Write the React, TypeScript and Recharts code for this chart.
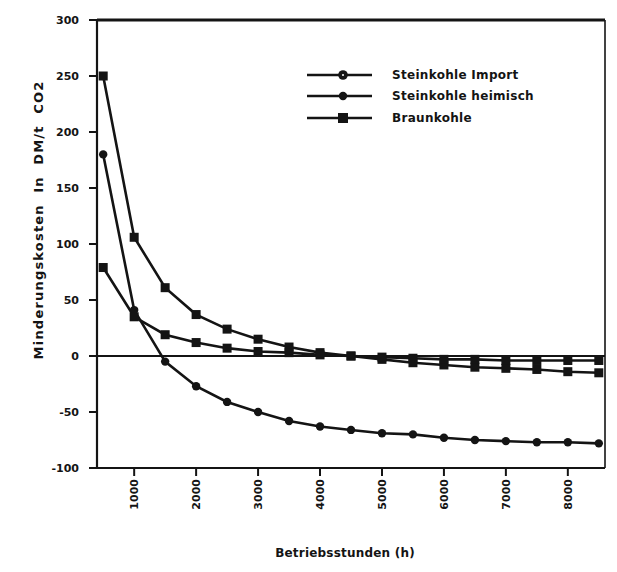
import React from 'react';
import { LineChart, Line, XAxis, YAxis, ReferenceLine, Legend } from 'recharts';

const hours = [500, 1000, 1500, 2000, 2500, 3000, 3500, 4000, 4500, 5000, 5500, 6000, 6500, 7000, 7500, 8000, 8500];
const importValues = [250, 106, 61, 37, 24, 15, 8, 3, 0, -3, -6, -8, -10, -11, -12, -14, -15];
const heimischValues = [180, 41, -5, -27, -41, -50, -58, -63, -66, -69, -70, -73, -75, -76, -77, -77, -78];
const braunkohleValues = [79, 35, 19, 12, 7, 4, 3, 1, 0, -1, -2, -3, -3, -4, -4, -4, -4];
const seriesNames = ['Steinkohle Import', 'Steinkohle heimisch', 'Braunkohle'];
const xLabelTicks = [1000, 2000, 3000, 4000, 5000, 6000, 7000, 8000];
const yLabelTicks = [-100, -50, 0, 50, 100, 150, 200, 250, 300];
const xTitle = 'Betriebsstunden (h)';
const yTitle = 'Minderungskosten  In  DM/t  CO2';

const X_MIN = 400;
const X_MAX = 8600;
const xTicks: number[] = [];
for (let v = X_MIN; v <= X_MAX; v += 200) xTicks.push(v);
const yTicks: number[] = [];
for (let v = -100; v <= 300; v += 25) yTicks.push(v);

const data = hours.map((h, i) => ({
  h,
  imp: importValues[i],
  heim: heimischValues[i],
  braun: braunkohleValues[i],
}));

const INK = '#141414';
const FONT = "'DejaVu Sans', sans-serif";
const CHART_W = 617;
const CHART_H = 572;
const MARGIN = { top: 20, right: 12, left: 0, bottom: 0 };
const Y_AXIS_W = 97;
const X_AXIS_H = 104;

const YTickLabel = (props: any) => {
  const { x, y, payload } = props;
  const v = payload.value;
  if (!yLabelTicks.includes(v)) return <g />;
  return (
    <text x={x - 10} y={y} dy={4} textAnchor="end" fontFamily={FONT} fontWeight="bold" fontSize={11} fill={INK}>
      {v}
    </text>
  );
};

const XTickLabel = (props: any) => {
  const { x, y, payload } = props;
  const v = payload.value;
  if (!xLabelTicks.includes(v)) return <g />;
  return (
    <text
      transform={`translate(${x},${y + 3}) rotate(-90)`}
      dy={4}
      textAnchor="end"
      fontFamily={FONT}
      fontWeight="bold"
      fontSize={11}
      fill={INK}
    >
      {v}
    </text>
  );
};

const SquareDot = (props: any) => {
  const { cx, cy } = props;
  if (cx == null || cy == null) return null;
  return <rect x={cx - 4.5} y={cy - 4.5} width={9} height={9} fill={INK} />;
};
const CircleDot = (props: any) => {
  const { cx, cy } = props;
  if (cx == null || cy == null) return null;
  return <circle cx={cx} cy={cy} r={4.2} fill={INK} />;
};

const markers = [
  (x: number, y: number) => (
    <g>
      <circle cx={x} cy={y} r={4.8} fill={INK} />
      <circle cx={x} cy={y} r={1} fill="#fff" />
    </g>
  ),
  (x: number, y: number) => <circle cx={x} cy={y} r={4.2} fill={INK} />,
  (x: number, y: number) => <rect x={x - 5} y={y - 5} width={10} height={10} fill={INK} />,
];
const legendRows = [13, 34, 56];

const LegendBox = () => (
  <svg width={260} height={72}>
    {seriesNames.map((name, i) => (
      <g key={name}>
        <line x1={7} x2={72} y1={legendRows[i]} y2={legendRows[i]} stroke={INK} strokeWidth={2.6} />
        {markers[i](43, legendRows[i])}
        <text x={92} y={legendRows[i]} dy={4} fontFamily={FONT} fontWeight="bold" fontSize={12} letterSpacing={0.3} fill={INK}>
          {name}
        </text>
      </g>
    ))}
  </svg>
);

const YTitle = () => (
  <text
    transform="translate(38,220) rotate(-90)"
    textAnchor="middle"
    dy={5}
    fontFamily={FONT}
    fontWeight="bold"
    fontSize={13}
    letterSpacing={1.2}
    fill={INK}
    style={{ whiteSpace: 'pre' }}
  >
    {yTitle}
  </text>
);

const XTitle = () => (
  <text x={345} y={557} textAnchor="middle" fontFamily={FONT} fontWeight="bold" fontSize={12} letterSpacing={0.2} fill={INK}>
    {xTitle}
  </text>
);

const tickStyle = { stroke: INK, strokeWidth: 2 };

export default function App() {
  return (
    <div style={{ margin: '-8px 0 0 -8px', width: CHART_W, height: CHART_H, background: '#fff' }}>
      <LineChart width={CHART_W} height={CHART_H} data={data} margin={MARGIN}>
        <XAxis
          xAxisId="minor"
          dataKey="h"
          type="number"
          domain={[X_MIN, X_MAX]}
          ticks={xTicks}
          interval={0}
          tickSize={4}
          tickLine={tickStyle}
          tick={false}
          height={0}
          axisLine={false}
        />
        <XAxis
          dataKey="h"
          type="number"
          domain={[X_MIN, X_MAX]}
          ticks={xLabelTicks}
          interval={0}
          tickSize={8}
          tickMargin={0}
          tickLine={tickStyle}
          tick={<XTickLabel />}
          height={X_AXIS_H}
          axisLine={{ stroke: INK, strokeWidth: 2.2 }}
          label={<XTitle />}
        />
        <YAxis
          yAxisId="minor"
          type="number"
          domain={[-100, 300]}
          ticks={yTicks}
          interval={0}
          tickSize={4}
          tickLine={tickStyle}
          tick={false}
          width={0}
          axisLine={false}
        />
        <YAxis
          type="number"
          domain={[-100, 300]}
          ticks={yLabelTicks}
          interval={0}
          tickSize={8}
          tickMargin={0}
          tickLine={tickStyle}
          tick={<YTickLabel />}
          width={Y_AXIS_W}
          axisLine={{ stroke: INK, strokeWidth: 2.2 }}
          label={<YTitle />}
        />
        <ReferenceLine y={300} stroke={INK} strokeWidth={3} ifOverflow="visible" />
        <ReferenceLine x={X_MAX} stroke={INK} strokeWidth={1.6} ifOverflow="visible" />
        <ReferenceLine y={0} stroke={INK} strokeWidth={1.8} />
        <Line dataKey="imp" name={seriesNames[0]} stroke={INK} strokeWidth={2.6} dot={<SquareDot />} isAnimationActive={false} />
        <Line dataKey="heim" name={seriesNames[1]} stroke={INK} strokeWidth={2.6} dot={<CircleDot />} isAnimationActive={false} />
        <Line dataKey="braun" name={seriesNames[2]} stroke={INK} strokeWidth={2.6} dot={<SquareDot />} isAnimationActive={false} />
        <Legend
          layout="vertical"
          align="center"
          verticalAlign="middle"
          wrapperStyle={{ position: 'absolute', left: 300, top: 62, width: 260, height: 72 }}
          content={() => <LegendBox />}
        />
      </LineChart>
    </div>
  );
}
